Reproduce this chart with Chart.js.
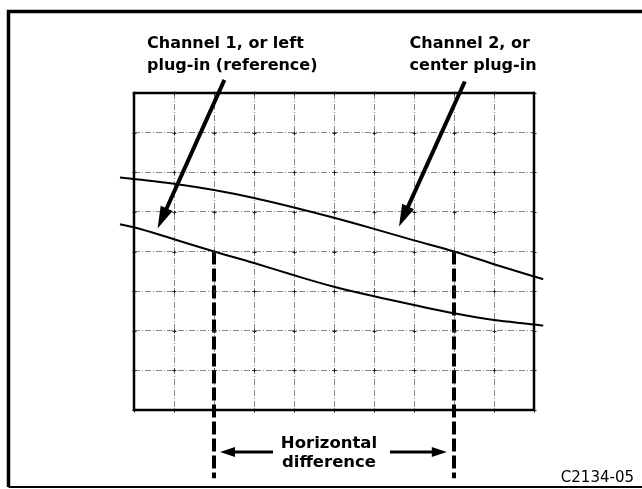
<!DOCTYPE html>
<html><head><meta charset="utf-8">
<script src="https://cdn.jsdelivr.net/npm/chart.js@4.4.1/dist/chart.umd.min.js"></script>
<style>html,body{margin:0;padding:0;background:#fff;overflow:hidden}#wrap{width:642px;height:489px;position:relative}canvas{display:block}</style>
</head><body><div id="wrap"><canvas id="c" width="642" height="489"></canvas></div>
<script>
// horizontal position in graticule divisions
const sampleX = [-0.35, 0, 1, 2, 3, 4, 5, 6, 7, 8, 9, 10, 10.23];
// Channel 1 (reference, lower trace), vertical divisions from centre line
const channel1Y = [0.69, 0.61, 0.31, 0.0, -0.29, -0.60, -0.89, -1.13, -1.35, -1.56, -1.73, -1.84, -1.87];
// Channel 2 (centre plug-in, upper trace)
const channel2Y = [1.87, 1.83, 1.71, 1.55, 1.35, 1.11, 0.85, 0.57, 0.28, 0.0, -0.32, -0.63, -0.70];
// graticule: 10 x 8 divisions
const xRange = [0, 10];
const yRange = [-4, 4];
// crossing points on centre line (horizontal difference markers)
const markerX = [2, 8];
const markerBottom = -5.72;

// listed right-to-left so traces are drawn past the graticule edges on both sides
const ch1Pts = sampleX.map((x, i) => ({x: x, y: channel1Y[i]})).reverse();
const ch2Pts = sampleX.map((x, i) => ({x: x, y: channel2Y[i]})).reverse();

function arrow(ctx, x1, y1, x2, y2, w, hl, hw) {
  const a = Math.atan2(y2 - y1, x2 - x1);
  const bx = x2 - hl * Math.cos(a), by = y2 - hl * Math.sin(a);
  ctx.save();
  ctx.strokeStyle = '#000'; ctx.fillStyle = '#000';
  ctx.lineWidth = w; ctx.lineCap = 'butt';
  ctx.beginPath(); ctx.moveTo(x1, y1); ctx.lineTo(bx + Math.cos(a) * 2, by + Math.sin(a) * 2); ctx.stroke();
  ctx.beginPath();
  ctx.moveTo(x2, y2);
  ctx.lineTo(bx + hw / 2 * Math.sin(a), by - hw / 2 * Math.cos(a));
  ctx.lineTo(bx - hw / 2 * Math.sin(a), by + hw / 2 * Math.cos(a));
  ctx.closePath(); ctx.fill();
  ctx.restore();
}

const decor = {
  id: 'decor',
  afterDatasetsDraw(chart) {
    const ctx = chart.ctx, xs = chart.scales.x, ys = chart.scales.y, ca = chart.chartArea;
    const px = v => xs.getPixelForValue(v), py = v => ys.getPixelForValue(v);
    ctx.save();
    // intersection marks
    ctx.strokeStyle = '#222'; ctx.lineWidth = 1;
    xs.ticks.forEach(tx => ys.ticks.forEach(ty => {
      const X = Math.round(px(tx.value)) + 0.5, Y = Math.round(py(ty.value)) + 0.5;
      ctx.beginPath(); ctx.moveTo(X - 2, Y); ctx.lineTo(X + 2, Y); ctx.moveTo(X, Y - 2); ctx.lineTo(X, Y + 2); ctx.stroke();
    }));
    // graticule frame
    ctx.strokeStyle = '#000'; ctx.lineWidth = 2.5;
    ctx.strokeRect(ca.left, ca.top, ca.right - ca.left, ca.bottom - ca.top);
    // outer figure frame
    ctx.lineWidth = 3.5;
    ctx.beginPath(); ctx.moveTo(8.5, 487); ctx.lineTo(8.5, 11.5); ctx.lineTo(642, 11.5); ctx.stroke();
    ctx.lineWidth = 2;
    ctx.beginPath(); ctx.moveTo(8.5, 487); ctx.lineTo(642, 487); ctx.stroke();
    // pointer arrows
    arrow(ctx, px(2.26), py(4.33), px(0.59), py(0.58), 4, 22, 13);
    arrow(ctx, px(8.27), py(4.29), px(6.625), py(0.63), 4, 22, 13);
    arrow(ctx, px(3.475), py(-5.06), px(2.15), py(-5.06), 3, 15, 10);
    arrow(ctx, px(6.4), py(-5.06), px(7.82), py(-5.06), 3, 15, 10);
    // labels
    ctx.fillStyle = '#000';
    ctx.font = 'bold 16px "DejaVu Sans"';
    ctx.textBaseline = 'middle';
    ctx.textAlign = 'left';
    ctx.fillText('Channel 1, or left', px(0.325), py(5.24));
    ctx.fillText('plug-in (reference)', px(0.325), py(4.68));
    ctx.fillText('Channel 2, or', px(6.89), py(5.24));
    ctx.fillText('center plug-in', px(6.89), py(4.68));
    ctx.textAlign = 'center';
    ctx.font = 'bold 16.5px "DejaVu Sans"';
    ctx.fillText('Horizontal', px(4.875), py(-4.84));
    ctx.fillText('difference', px(4.875), py(-5.34));
    ctx.font = '15px "DejaVu Sans"';
    ctx.textAlign = 'right';
    ctx.fillText('C2134-05', 634, 478);
    ctx.restore();
  }
};

const traceStyle = {showLine: true, pointRadius: 0, borderColor: '#000', borderWidth: 2, cubicInterpolationMode: 'monotone', clip: false};
const markerStyle = {showLine: true, pointRadius: 0, borderColor: '#000', borderWidth: 4, borderDash: [13, 4], clip: false};

new Chart(document.getElementById('c'), {
  type: 'scatter',
  data: {
    datasets: [
      Object.assign({label: 'Channel 1', data: ch1Pts}, traceStyle),
      Object.assign({label: 'Channel 2', data: ch2Pts}, traceStyle),
      Object.assign({label: 'm1', data: [{x: markerX[0], y: 0}, {x: markerX[0], y: markerBottom}]}, markerStyle),
      Object.assign({label: 'm2', data: [{x: markerX[1], y: 0}, {x: markerX[1], y: markerBottom}]}, markerStyle)
    ]
  },
  options: {
    responsive: false, devicePixelRatio: 1, animation: false,
    layout: {padding: {left: 134, right: 108, top: 93, bottom: 79}},
    plugins: {legend: {display: false}, tooltip: {enabled: false}},
    scales: {
      x: {type: 'linear', min: xRange[0], max: xRange[1], ticks: {display: false, stepSize: 1},
          grid: {color: '#888', lineWidth: 1, drawTicks: false}, border: {display: false, dash: [6, 2, 1, 2]}},
      y: {type: 'linear', min: yRange[0], max: yRange[1], ticks: {display: false, stepSize: 1},
          grid: {color: '#888', lineWidth: 1, drawTicks: false}, border: {display: false, dash: [6, 2, 1, 2]}}
    }
  },
  plugins: [decor]
});
</script></body></html>
